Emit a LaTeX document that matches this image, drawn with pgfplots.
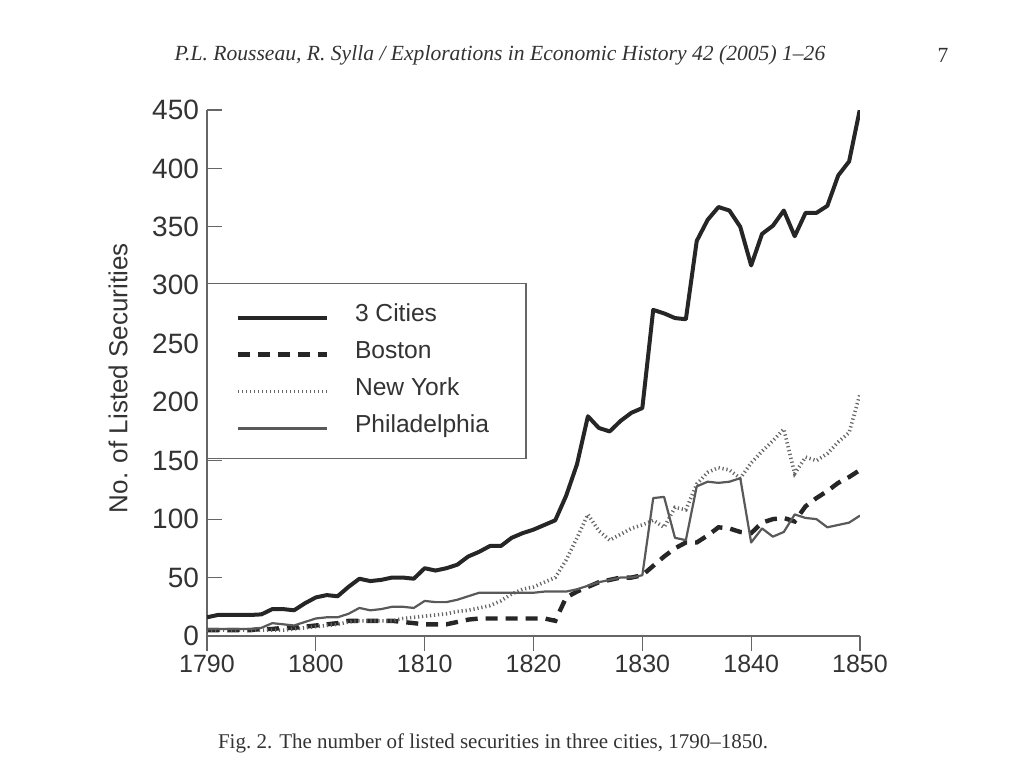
\documentclass[border=0pt]{standalone}
\usepackage{fontspec}
\setmainfont{Liberation Sans}
\newfontfamily\serif{Liberation Serif}
\usepackage{pgfplots}
\usepackage{pgfplotstable}
\pgfplotsset{compat=1.18}

% listed securities per year
\pgfplotstableread{
year cities boston newyork phila
1790 16  5   5   6
1791 18  5   5   6
1792 18  5   5   6
1793 18  5   5   6
1794 18  5   5   6
1795 18.5 6  5   7
1796 23  6   5   11
1797 23  7   5   10
1798 22  7   6   9
1799 28  8   7   12
1800 33  9   8   15
1801 35  10  9   16
1802 34  11  10  16
1803 42  13  12  19
1804 49  13  13  24
1805 47  13  13  22
1806 48  13  13  23
1807 50  13  13  25
1808 50  12  15  25
1809 49  11  16  24
1810 58  10  17  30
1811 56  10  18  29
1812 58  10  19  29
1813 61  12  21  31
1814 68  14  22  34
1815 72  15  24  37
1816 77  15  26  37
1817 77  15  30  37
1818 84  15  36  37
1819 88  15  40  37
1820 91  15  42  37
1821 95  15  46  38
1822 99  13  50  38
1823 120 33  65  38
1824 147 38  84  40
1825 188 42  104 43
1826 178 46  90  46
1827 175 48  82  48
1828 184 50  87  50
1829 191 50  92  50
1830 195 52  95  52
1831 279 60  99  118
1832 276 68  93  119
1833 272 75  110 84
1834 271 80  108 82
1835 338 80  130 128
1836 356 86  140 132
1837 367 93  144 131
1838 364 92  142 132
1839 350 89  135 135
1840 317 88  148 80
1841 344 97  158 92
1842 351 100 167 85
1843 364 101 177 89
1844 342 98  139 104
1845 362 111 153 101
1846 362 118 150 100
1847 368 124 156 93
1848 394 131 166 95
1849 406 136 174 97
1850 451 142 207 103
}\securities

\begin{document}
\begin{tikzpicture}
\path[use as bounding box] (0,0) rectangle (512pt,384pt);

\node[font=\serif\itshape\fontsize{10.8}{12}\selectfont, text=black!80] at (250pt,356.5pt)
  {P.L. Rousseau, R. Sylla / Explorations in Economic History 42 (2005) 1–26};
\node[font=\serif\fontsize{10.8}{12}\selectfont, text=black!80] at (471.5pt,356.5pt) {7};
\node[font=\serif\fontsize{10.5}{12}\selectfont, text=black!80] at (246.5pt,12.5pt)
  {Fig.\ 2. The number of listed securities in three cities, 1790–1850.};

\begin{axis}[
  at={(103.5pt,66pt)}, anchor=south west,
  scale only axis, width=326.5pt, height=263pt,
  xmin=1790, xmax=1850, ymin=0, ymax=450,
  axis x line*=bottom, axis y line*=left,
  axis line style={black!60, line width=0.6pt},
  xtick={1790,1800,...,1850}, ytick={0,50,...,450},
  tick align=inside, major tick length=7.5pt,
  tick style={black!60, line width=0.6pt},
  x tick style={yshift=-7.5pt},
  /pgf/number format/assume math mode=true,
  /pgf/number format/1000 sep={},
  xticklabel style={font=\fontsize{12.5}{14}\selectfont, text=black!80, yshift=-6pt},
  yticklabel style={font=\fontsize{14}{16}\selectfont, text=black!80, xshift=-0.5pt},
  ylabel={No. of Listed Securities},
  ylabel style={at={(axis description cs:-0.136,0.49)}, anchor=center,
    font=\fontsize{13}{15}\selectfont, text=black!80},
  legend style={at={(0,0.6712)}, anchor=north west,
    draw=black!60, line width=0.6pt, inner xsep=14pt, inner ysep=10pt,
    row sep=6.5pt, font=\fontsize{12.3}{14}\selectfont, text=black!80,
    nodes={inner sep=0pt, text height=9pt, text depth=3pt}},
  legend cell align=left,
  /tikz/every odd column/.append style={column sep=13pt},
  legend image code/.code={\draw[#1] (0pt,-1pt) -- (44.5pt,-1pt);},
]
\addplot[black!85, line width=2pt, line join=round] table[x=year, y=cities] {\securities};
\addplot[black!85, line width=2.2pt, dash pattern=on 6pt off 4pt] table[x=year, y=boston] {\securities};
\addplot[black!60, line width=1.8pt, dash pattern=on 0.6pt off 1.4pt] table[x=year, y=newyork] {\securities};
\addplot[black!65, line width=1.1pt, line join=round] table[x=year, y=phila] {\securities};
\legend{3 Cities, Boston, New York, Philadelphia\hspace*{4.5pt}}
\end{axis}
\end{tikzpicture}
\end{document}
